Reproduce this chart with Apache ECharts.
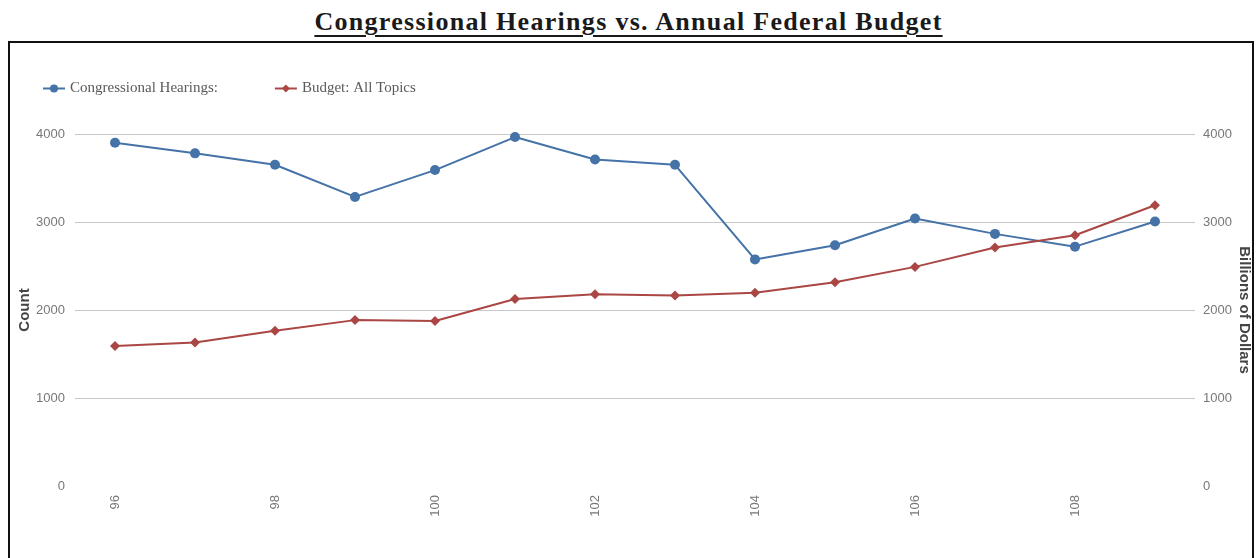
<!DOCTYPE html>
<html>
<head>
<meta charset="utf-8">
<script src="https://cdn.jsdelivr.net/npm/echarts@6/dist/echarts.min.js"></script>
<style>
  html, body { margin: 0; padding: 0; background: #fff; overflow: hidden; width: 1257px; height: 558px; }
  #title { position: absolute; left: 0; top: 7px; width: 1257px; text-align: center;
    font-family: "Liberation Serif", "DejaVu Serif", serif; font-weight: bold; font-size: 26px;
    letter-spacing: 1.3px; color: #1a1a1a; text-decoration: underline; text-underline-offset: 5px;
    text-decoration-thickness: 1.5px; }
  #box { position: absolute; left: 8px; top: 41px; width: 1242px; height: 540px; border: 2px solid #111; }
  #chart { width: 1242px; height: 540px; }
</style>
</head>
<body>
<div id="title">Congressional Hearings vs. Annual Federal Budget</div>
<div id="box"><div id="chart"></div></div>
<script>
const congresses = ['96','97','98','99','100','101','102','103','104','105','106','107','108','109'];
const hearings = [3900, 3780, 3650, 3285, 3590, 3965, 3710, 3650, 2575, 2735, 3040, 2865, 2720, 3005];
const budget = [1590, 1630, 1765, 1885, 1875, 2125, 2180, 2165, 2195, 2315, 2490, 2710, 2850, 3190];
const seriesNames = ['Congressional Hearings:', 'Budget: All Topics'];
const leftAxisName = 'Count';
const rightAxisName = 'Billions of Dollars';

const chart = echarts.init(document.getElementById('chart'), null, { renderer: 'canvas' });
const labelStyle = { color: '#777', fontSize: 13, fontFamily: 'Liberation Sans, Arial, sans-serif' };
const nameFont = 'bold 15px "Liberation Sans", Arial, sans-serif';
const plain = v => String(v);
chart.setOption({
  animation: false,
  color: ['#4572A7', '#AA4643'],
  legend: {
    left: 27, top: 33, itemWidth: 22, itemHeight: 10, itemGap: 56,
    textStyle: { color: '#5a5a5a', fontSize: 15, fontFamily: 'Liberation Serif, DejaVu Serif, serif' },
    data: seriesNames
  },
  graphic: [
    { type: 'text', x: 15, y: 267, rotation: Math.PI / 2,
      style: { text: leftAxisName, font: nameFont, fill: '#444', align: 'center', verticalAlign: 'middle' } },
    { type: 'text', x: 1234, y: 267, rotation: -Math.PI / 2,
      style: { text: rightAxisName, font: nameFont, fill: '#444', align: 'center', verticalAlign: 'middle' } }
  ],
  grid: { left: 65, right: 57, top: 91, bottom: 97, containLabel: false, outerBoundsMode: 'none' },
  xAxis: {
    type: 'category', data: congresses, boundaryGap: true,
    axisLine: { show: false }, axisTick: { show: false },
    axisLabel: Object.assign({ rotate: 90, interval: 1, margin: 9 }, labelStyle),
    splitLine: { show: false }
  },
  yAxis: [
    {
      type: 'value', min: 0, max: 4000, interval: 1000, position: 'left',
      axisLine: { show: false }, axisTick: { show: false },
      axisLabel: Object.assign({ margin: 10, formatter: plain }, labelStyle),
      splitLine: { show: true, showMinLine: false, lineStyle: { color: '#c8c8c8', width: 1 } }
    },
    {
      type: 'value', min: 0, max: 4000, interval: 1000, position: 'right',
      axisLine: { show: false }, axisTick: { show: false },
      axisLabel: Object.assign({ margin: 8, formatter: plain }, labelStyle),
      splitLine: { show: false }
    }
  ],
  series: [
    {
      name: seriesNames[0], type: 'line', data: hearings, yAxisIndex: 0,
      symbol: 'circle', symbolSize: 10, lineStyle: { width: 2 }, itemStyle: { color: '#4572A7' }
    },
    {
      name: seriesNames[1], type: 'line', data: budget, yAxisIndex: 1,
      symbol: 'diamond', symbolSize: 10, lineStyle: { width: 2 }, itemStyle: { color: '#AA4643' }
    }
  ]
});
</script>
</body>
</html>
